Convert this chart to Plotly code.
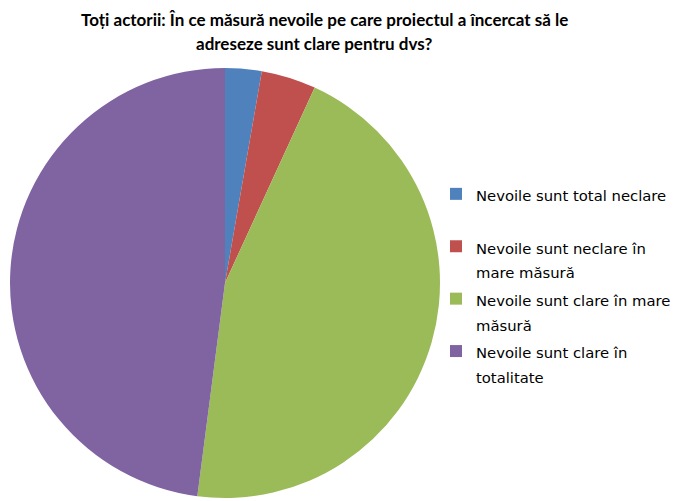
import plotly.graph_objects as go

label_lines = [
    ["Nevoile sunt total neclare"],
    ["Nevoile sunt neclare în", "mare măsură"],
    ["Nevoile sunt clare în mare", "măsură"],
    ["Nevoile sunt clare în", "totalitate"],
]
values = [2, 3, 33, 35]
colors = ["#4F81BD", "#C0504D", "#9BBB59", "#8064A2"]
title_lines = [
    "Toți actorii: În ce măsură nevoile pe care proiectul a încercat să le",
    "adreseze sunt clare pentru dvs?",
]

W, H = 681, 501
LEG_TXT = 14.8


def legend_label(lines):
    lines = list(lines)
    while len(lines) < 2:
        lines.append("&nbsp;")
    return "<br>".join('<span style="font-size:%spx">%s</span>' % (LEG_TXT, l) for l in lines)


labels = [legend_label(l) for l in label_lines]

fig = go.Figure(go.Pie(
    labels=labels,
    values=values,
    marker=dict(colors=colors, line=dict(width=0)),
    sort=False,
    direction="clockwise",
    rotation=0,
    textinfo="none",
    hoverinfo="percent",
    domain=dict(x=[10 / W, 440 / W], y=[1 - 498 / H, 1 - 68 / H]),
))

title_y = [20, 43]
title_x = [324, 314]
for txt, tx, ty in zip(title_lines, title_x, title_y):
    fig.add_annotation(text="<b>" + txt + "</b>", x=tx / W, y=1 - ty / H,
                       xref="paper", yref="paper", showarrow=False,
                       xanchor="center", yanchor="middle",
                       font=dict(family="Lato, Liberation Sans, sans-serif", size=17, color="#000000"))

fig.update_layout(
    width=W, height=H,
    margin=dict(l=0, r=0, t=0, b=0, autoexpand=False),
    paper_bgcolor="white",
    plot_bgcolor="white",
    showlegend=True,
    legend=dict(
        x=436 / W, y=1 - 175 / H, xanchor="left", yanchor="top",
        valign="top",
        font=dict(family="DejaVu Sans, sans-serif", size=19, color="#000000"),
        bgcolor="rgba(0,0,0,0)",
        itemwidth=30,
    ),
)

fig.write_html("out.html")
